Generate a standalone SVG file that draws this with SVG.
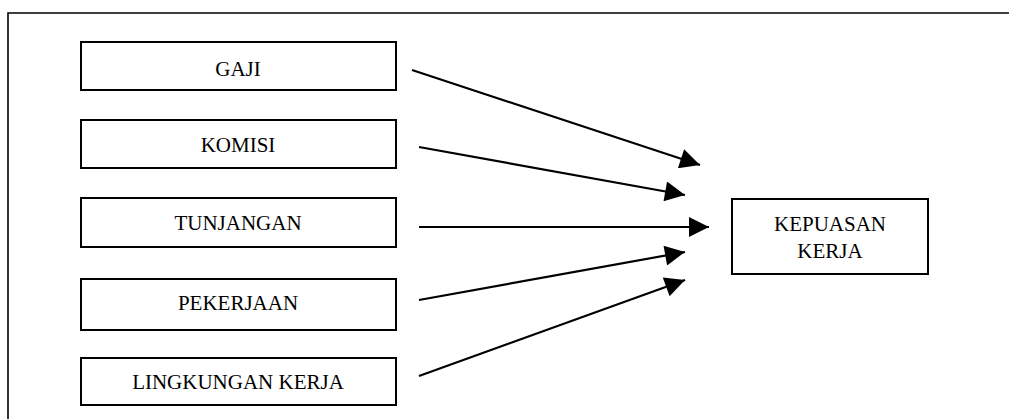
<svg xmlns="http://www.w3.org/2000/svg" width="1009" height="419" viewBox="0 0 1009 419">
  <style>
    .box { fill: #ffffff; stroke: #000000; stroke-width: 2; }
    .frame { fill: none; stroke: #000000; stroke-width: 1.6; }
    .label { font-family: "Liberation Serif", "Times New Roman", serif; font-size: 21px; fill: #000000; text-anchor: middle; }
    .link { stroke: #000000; stroke-width: 2.2; fill: none; marker-end: url(#head); }
  </style>
  <defs>
    <marker id="head" viewBox="0 0 10 10" refX="10" refY="5" markerUnits="userSpaceOnUse" markerWidth="24" markerHeight="20" orient="auto">
      <path d="M0,0 L10,5 L0,10 Z" fill="#000000"/>
    </marker>
  </defs>
  <rect width="1009" height="419" fill="#ffffff"/>

  <!-- outer frame, open on the right and bottom -->
  <path class="frame" d="M8,419 L8,13 L1009,13"/>

  <g id="node-gaji">
    <rect class="box" x="81" y="42" width="315" height="48"/>
    <text class="label" x="238" y="76">GAJI</text>
  </g>
  <g id="node-komisi">
    <rect class="box" x="81" y="120" width="315" height="48"/>
    <text class="label" x="238" y="152">KOMISI</text>
  </g>
  <g id="node-tunjangan">
    <rect class="box" x="81" y="198" width="315" height="49"/>
    <text class="label" x="238" y="230">TUNJANGAN</text>
  </g>
  <g id="node-pekerjaan">
    <rect class="box" x="81" y="279" width="315" height="51"/>
    <text class="label" x="238" y="310">PEKERJAAN</text>
  </g>
  <g id="node-lingkungan">
    <rect class="box" x="81" y="358" width="315" height="47"/>
    <text class="label" x="238" y="389">LINGKUNGAN KERJA</text>
  </g>
  <g id="node-kepuasan">
    <rect class="box" x="732" y="199" width="196" height="75"/>
    <text class="label" x="830" y="231">KEPUASAN</text>
    <text class="label" x="830" y="258">KERJA</text>
  </g>

  <g id="connectors">
    <line class="link" x1="412" y1="70" x2="700" y2="165"/>
    <line class="link" x1="419" y1="147" x2="685" y2="195"/>
    <line class="link" x1="419" y1="227" x2="709" y2="227"/>
    <line class="link" x1="419" y1="300" x2="685" y2="252"/>
    <line class="link" x1="419" y1="376" x2="685" y2="280"/>
  </g>
</svg>
